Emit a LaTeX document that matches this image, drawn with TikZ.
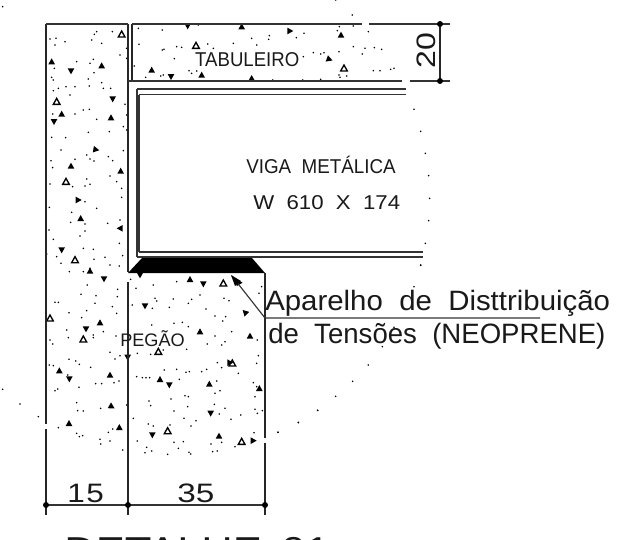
\documentclass[tikz,border=0pt]{standalone}
\usepackage{fontspec}
\setmainfont{Liberation Sans}
\tikzset{
  wall/.style={line width=1.1pt,black!85},
  thin wall/.style={line width=0.85pt,black!80},
  label/.style={inner sep=0pt,anchor=base west,text=black!90},
}
\newcommand{\dotsat}[1]{\foreach \x/\y in {#1}{\fill[black] (\x,\y) circle[radius=2.6];}}
\newcommand{\trif}[1]{\foreach \x/\y/\a in {#1}{\fill[black,rotate around={\a:(\x,\y)}] (\x,\y-10) -- (\x+10,\y+8) -- (\x-10,\y+8) -- cycle;}}
\newcommand{\trio}[1]{\foreach \x/\y/\a in {#1}{\draw[black,line width=1pt,rotate around={\a:(\x,\y)}] (\x,\y-10) -- (\x+10,\y+8) -- (\x-10,\y+8) -- cycle;}}
\begin{document}
\begin{tikzpicture}[x=0.75pt,y=-0.75pt]
\useasboundingbox (0,0) rectangle (637,540);
\clip (0,0) rectangle (637,540);
% hatch: coordinates are in 3x reference pixels (0.25pt each)
\begin{scope}[x=0.25pt,y=-0.25pt]
\dotsat{8/20,150/117,168/115,165/135,195/125,290/95,283/103,275/120,305/130,337/95,360/165,380/145,380/175,163/205,155/232,160/240,230/185,280/178,270/190,282/218,265/237,198/260,225/260,268/258,305/248,310/265,332/265,175/265,160/272,210/285,250/330,268/328,225/342,158/342,290/358,375/313,380/345,370/380,380/390,265/397,328/395,155/412,197/413,183/450,370/452,260/465,270/477,282/483,325/470,338/482,153/482,158/503,225/478,330/528,350/545,260/537,255/558,270/553,218/560,150/552,365/565,365/592,255/605,148/622,290/625,215/637,212/667,255/672,255/693,240/708,323/670,360/660,147/690,160/718,358/730,250/745,280/748,140/762,170/770,183/790,282/778,315/772,368/767,330/795,358/798,270/805}
\dotsat{415/85,487/90,417/133,487/150,492/148,530/140,545/142,523/176,403/198,437/232,482/228,490/225,567/212,575/220,590/213,623/132,640/145,700/130,755/115,770/135,808/107,806/118,889/113,912/100,595/75,910/170,940/158,818/240,908/240,1018/80,1012/92,1060/78,1070/72,1105/95,1060/140,1095/145,1087/162,1017/155,1123/143,1145/148,972/158,962/162,1120/212,1140/212,1172/208,1182/205,1017/225,1020/232,1040/228,962/238,1057/45,1007/0}
\dotsat{1242/328,1262/394,1276/460,1286/527,1289/595,1286/662,1276/730,1262/796}
\trif{563/78/180,725/80/0,870/93/-90,455/210/0,513/230/180,605/225/0,755/235/0,1023/105/0,988/178/-110,155/185/0,213/213/180,305/197/0,338/297/180,185/342/0,333/353/0,162/365/180,288/449/-100,213/498/0,362/513/0,235/600/-90,242/655/0,360/685/90,185/750/180}
\trio{588/137/0,1032/205/0,365/103/0,170/305/0,198/545/0,225/780/0}
\end{scope}
\begin{scope}[x=0.25pt,y=-0.25pt,shift={(0,810)}]
\dotsat{208/5,250/5,262/45,353/58,352/80,243/73,288/77,165/97,175/97,285/100,260/122,207/128,337/110,350/130,245/143,200/180,205/203,310/185,280/195,280/203,150/210,158/222,348/198,330/247,345/267,360/257,207/268,227/273,238/283,272/292,148/285,160/287,203/315,237/352,287/341,305/341,342/338,357/333,165/362,173/357,230/398,233/422,250/423,302/415,175/473,230/490,238/500,248/497,325/487,338/477,300/508,302/522,330/513,368/540,380/405}
\dotsat{392/28,408/55,460/45,530/35,397/105,465/85,470/93,457/115,520/87,508/112,575/88,565/100,600/75,618/117,672/85,687/92,645/138,677/140,668/153,785/50,777/70,455/165,522/160,547/157,565/170,645/198,622/222,675/215,665/225,695/185,772/210,560/238,412/250,452/253,490/240,775/257,770/280,652/278,665/293,715/310,493/300,530/298,558/307,568/305,605/305,620/298,410/320,427/323,438/323,449/323,538/328,650/333,660/362,645/370,760/338,770/350,765/380,447/393,452/407,513/387,555/377,565/380,563/410,522/423,643/403,675/415,658/432,722/435,693/448,765/418,772/430,787/422,400/445,445/462,460/468,510/465,552/445,588/452,573/468,412/513,522/517,550/515,535/535,633/522,665/517,705/530,762/488,638/545,652/543,440/532,435/548,455/543,503/553,567/547,572/552}
\dotsat{8/358,60/402,115/440,834/487,895/457,953/421}
\trif{270/3/0,312/27/180,300/158/0,258/177/180,383/262/180,178/302/0,208/327/180,330/315/0,335/410/-120,207/460/0,358/472/0,420/15/180,570/28/0,610/42/180,435/108/180,735/127/45,600/185/0,750/198/0,690/278/-90,480/328/0,508/345/180,628/342/0,778/355/0,632/430/180,457/495/180,657/498/0,760/512/-90,715/40/150}
\trio{150/145/0,250/208/0,670/40/0,475/245/0,697/280/0,503/483/0,725/515/0}
\end{scope}
\begin{scope}[x=0.25pt,y=-0.25pt,shift={(660,750)}]
\dotsat{602/45,582/110,522/232,487/290,445/345,398/394,347/439,293/481,235/518,174/547}
\end{scope}
% concrete outlines
\coordinate (a1) at (46,24); \coordinate (a2) at (46,424); \coordinate (a3) at (46,429); \coordinate (a4) at (46,515);
\draw[wall] (a1) -- (a2) (a3) -- (a4);
\coordinate (b1) at (128,24); \coordinate (b2) at (128,272); \coordinate (b3) at (128,282); \coordinate (b4) at (128,515);
\draw[wall] (b1) -- (b2) (b3) -- (b4);
\coordinate (c1) at (132,24); \coordinate (c2) at (132,81);
\draw[wall] (c1) -- (c2);
\coordinate (t0) at (46,24); \coordinate (t1) at (128,24); \coordinate (t2) at (132,24); \coordinate (t3) at (362,24); \coordinate (t4) at (369,24); \coordinate (t5) at (450,24);
\draw[thin wall] (t0) -- (t1) (t2) -- (t3) (t4) -- (t5);
\coordinate (u1) at (128,81); \coordinate (u2) at (402,81); \coordinate (u3) at (410,81); \coordinate (u4) at (450,81);
\draw[thin wall] (u1) -- (u2) (u3) -- (u4);
% dimension 20
\coordinate (d1) at (440,24); \coordinate (d2) at (440,81);
\draw[wall] (d1) -- (d2);
\fill (d1) circle[radius=3]; \fill (d2) circle[radius=3];
% beam
\coordinate (f1) at (137,89); \coordinate (f2) at (406,89); \coordinate (f3) at (139,94.5); \coordinate (f4) at (406,94.5);
\coordinate (g1) at (137,257); \coordinate (g2) at (423,257); \coordinate (g3) at (139,252); \coordinate (g4) at (423,252);
\draw[thin wall] (f1) -- (f2) (f3) -- (f4) (g1) -- (g2) (g3) -- (g4) (f1) -- (g1) (f3) -- (g3);
% neoprene pad
\fill[black] (128,273) -- (142,258) -- (252,258) -- (265,273) -- cycle;
% pier right
\coordinate (p1) at (265,273); \coordinate (p2) at (265,438); \coordinate (p3) at (265,443); \coordinate (p4) at (265,515);
\draw[wall] (p1) -- (p2) (p3) -- (p4);
% dimensions
\coordinate (e1) at (46,505); \coordinate (e2) at (128,505); \coordinate (e3) at (265,505);
\draw[thin wall] (e1) -- (e3);
\fill (e1) circle[radius=3]; \fill (e2) circle[radius=3]; \fill (e3) circle[radius=3];
% leader
\coordinate (l0) at (232,276); \coordinate (l1) at (265,318); \coordinate (l2) at (540,318);
\draw[thin wall] (l2) -- (l1) -- (l0);
\fill[black] (231,275) -- (241,281) -- (235,286) -- cycle;
% text
\node[label,xscale=1.18,font=\fontsize{20}{20}\selectfont] (t15) at (67,502) {1\kern1pt5};
\node[label,xscale=1.25,font=\fontsize{20}{20}\selectfont] (t35) at (177,502) {35};
\node[label,rotate=90,xscale=1.2,font=\fontsize{20}{20}\selectfont] (t20) at (435,69) {20};
\node[label,xscale=.93,font=\fontsize{15}{15}\selectfont] (tab) at (195,66) {TABULEIRO};
\node[label,font=\fontsize{13.6}{13.6}\selectfont] (peg) at (120,346) {PEGÃO};
\node[label,xscale=.94,font=\fontsize{15}{15}\selectfont] (viga) at (246,173) {VIGA\ \ METÁLICA};
\node[label,xscale=1.11,font=\fontsize{15}{15}\selectfont] (wsec) at (253,209) {W\ \ 610\ \ X\ \ 174};
\node[label,xscale=1.05,font=\fontsize{21}{21}\selectfont] (ap1) at (265,310) {Aparelho\ \ de\ \ Disttribuição};
\node[label,xscale=.985,font=\fontsize{21}{21}\selectfont] (ap2) at (268,343) {de\ \ Tensões\ \ (NEOPRENE)};
\node[label,xscale=1.21,font=\fontsize{27}{27}\selectfont] (det) at (64,562) {DETALHE\hspace{12pt}01};
\end{tikzpicture}
\end{document}
